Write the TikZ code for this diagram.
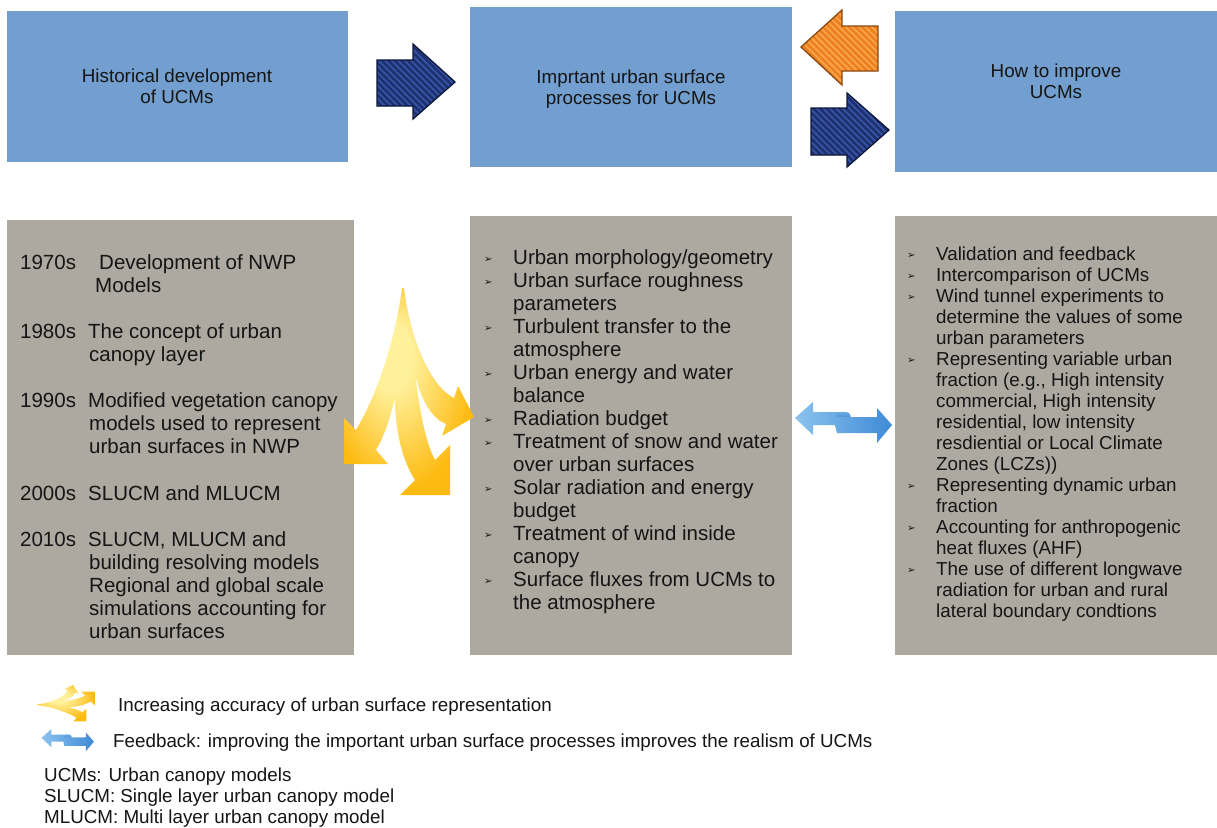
\documentclass[tikz,border=0pt]{standalone}
\usepackage{fontspec}
\setmainfont{Liberation Sans}
\newfontfamily\symfont{DejaVu Sans}
\usetikzlibrary{patterns.meta}

\definecolor{boxblue}{HTML}{729FCF}
\definecolor{boxgrey}{HTML}{ADA9A1}
\definecolor{navyfill}{HTML}{1D2F6E}
\definecolor{navystripe}{HTML}{3552A3}
\definecolor{navyedge}{HTML}{0D1736}
\definecolor{orangefill}{HTML}{EE7F1E}
\definecolor{orangestripe}{HTML}{F8A54A}
\definecolor{orangeedge}{HTML}{8B4A12}
\definecolor{txt}{HTML}{151515}
\definecolor{fanlight}{HTML}{FFF09A}
\definecolor{fangold}{HTML}{FDBB12}
\definecolor{swaplight}{HTML}{8CC3EF}
\definecolor{swapdark}{HTML}{3E8AD6}

% radial gradient of the three-way arrow, lightest near the stem
\pgfdeclareradialshading{fanshade}{\pgfpoint{-8bp}{10bp}}{%
  color(0bp)=(fanlight); color(8bp)=(fanlight);
  color(28bp)=(fangold); color(50bp)=(fangold)}

\tikzset{
  panel/.style={inner sep=0pt, outer sep=0pt, draw=none},
  topbox/.style={panel, fill=boxblue},
  greybox/.style={panel, fill=boxgrey},
  toptext/.style={anchor=base, inner sep=0pt, text=txt,
    font=\fontsize{18.8}{21}\selectfont},
  bigtext/.style={anchor=base west, inner sep=0pt, text=txt,
    font=\fontsize{20.5}{23}\selectfont},
  smalltext/.style={anchor=base west, inner sep=0pt, text=txt,
    font=\fontsize{18.8}{21}\selectfont},
  bul/.style={anchor=base west, inner sep=0pt, text=txt,
    font=\symfont\fontsize{10}{10}\selectfont},
  navyarrow/.style={draw=navyedge, line width=1.3pt, line join=miter,
    preaction={fill=navyfill},
    pattern={Lines[angle=-45,distance=4.6pt,line width=1.9pt]},
    pattern color=navystripe},
  orangearrow/.style={draw=orangeedge, line width=1.3pt, line join=miter,
    preaction={fill=orangefill},
    pattern={Lines[angle=-45,distance=4.6pt,line width=1.9pt]},
    pattern color=orangestripe},
  fanarrow/.pic={
    \shade[shading=fanshade]
      % left branch
      (0,0) .. controls (-8,60) and (-28,112) .. (-46,142)
        -- (-58,130) -- (-58,176) -- (-14,176) -- (-26,162)
        .. controls (-10,135) and (4,80) .. (2,0)
      % middle branch
      (0,0) .. controls (-10,80) and (-14,150) .. (13,192)
        -- (-2,207) -- (48,207) -- (48,157) -- (33,172)
        .. controls (16,140) and (12,70) .. (2,0)
      % right branch
      (0,0) .. controls (6,70) and (16,125) .. (44,136)
        -- (40,148) -- (72,129) -- (56,98) -- (52,110)
        .. controls (28,98) and (8,50) .. (2,0);
  },
  swaparrow/.pic={
    % arrow pointing left, its shaft rolled over at the right end
    \shade[left color=swaplight, right color=swaplight!40!swapdark]
      (-49,-4) -- (-31,-20) -- (-31,-10) -- (2,-10)
      .. controls (7,-10) and (8,-4) .. (6,3)
      -- (-31,3) -- (-31,13) -- cycle;
    \shade[top color=swaplight!70!swapdark, bottom color=swapdark]
      (-7,-7) .. controls (-6,-11) and (4,-12) .. (6,-6)
      -- (6,-2) -- (-7,-2) -- cycle;
    % arrow pointing right, in front
    \shade[left color=swaplight!60!swapdark, right color=swapdark]
      (-7,-5) -- (33,-5) -- (33,-14) -- (48,3) -- (33,21) -- (33,11)
      -- (-7,11) .. controls (-9,6) and (-9,0) .. cycle;
  }
}

\begin{document}
\begin{tikzpicture}[x=1pt,y=-1pt]
\useasboundingbox (0,0) rectangle (1217,827);
\fill[white] (0,0) rectangle (1217,827);

% ---- heading boxes
\node[topbox, minimum width=341pt, minimum height=151pt] (hist) at (177.5,86.5) {};
\node[topbox, minimum width=322pt, minimum height=160pt] (proc) at (631,87) {};
\node[topbox, minimum width=322pt, minimum height=161pt] (impr) at (1056,91.5) {};

\node[toptext] (hist1) at (177,82) {Historical development};
\node[toptext] (hist2) at (177,103) {of UCMs};
\node[toptext] (proc1) at (631,83) {Imprtant urban surface};
\node[toptext] (proc2) at (631,104) {processes for UCMs};
\node[toptext] (impr1) at (1056,77) {How to improve};
\node[toptext] (impr2) at (1056,98) {UCMs};

% ---- block arrows between the headings
\draw[navyarrow] (377,60) -- (413,60) -- (413,44) -- (455,82) -- (413,119)
  -- (413,106) -- (377,106) -- cycle;
\draw[orangearrow] (878,26) -- (842,26) -- (842,10) -- (801,47) -- (842,85)
  -- (842,71) -- (878,71) -- cycle;
\draw[navyarrow] (811,108) -- (847,108) -- (847,93) -- (889,130) -- (847,167)
  -- (847,155) -- (811,155) -- cycle;

% ---- content boxes
\node[greybox, minimum width=347pt, minimum height=435pt] (histbox) at (180.5,437.5) {};
\node[greybox, minimum width=322pt, minimum height=439pt] (procbox) at (631,435.5) {};
\node[greybox, minimum width=322pt, minimum height=439pt] (imprbox) at (1056,435.5) {};

% history of urban canopy models
\node[bigtext] (y70) at (20,269) {1970s};
\node[bigtext] (h1) at (99,269) {Development of NWP};
\node[bigtext] (h2) at (95,292) {Models};
\node[bigtext] (y80) at (20,338) {1980s};
\node[bigtext] (h3) at (88,338) {The concept of urban};
\node[bigtext] (h4) at (89,361) {canopy layer};
\node[bigtext] (y90) at (20,407) {1990s};
\node[bigtext] (h5) at (88,407) {Modified vegetation canopy};
\node[bigtext] (h6) at (89,430) {models used to represent};
\node[bigtext] (h7) at (89,453) {urban surfaces in NWP};
\node[bigtext] (y00) at (20,500) {2000s};
\node[bigtext] (h8) at (88,500) {SLUCM and MLUCM};
\node[bigtext] (y10) at (20,546) {2010s};
\node[bigtext] (h9) at (88,546) {SLUCM, MLUCM and};
\node[bigtext] (h10) at (89,569) {building resolving models};
\node[bigtext] (h11) at (89,592) {Regional and global scale};
\node[bigtext] (h12) at (89,615) {simulations accounting for};
\node[bigtext] (h13) at (89,638) {urban surfaces};

% important processes
\node[bigtext] (p1) at (513,264) {Urban morphology/geometry};
\node[bigtext] (p2) at (513,287) {Urban surface roughness};
\node[bigtext] (p3) at (513,310) {parameters};
\node[bigtext] (p4) at (513,333) {Turbulent transfer to the};
\node[bigtext] (p5) at (513,356) {atmosphere};
\node[bigtext] (p6) at (513,379) {Urban energy and water};
\node[bigtext] (p7) at (513,402) {balance};
\node[bigtext] (p8) at (513,425) {Radiation budget};
\node[bigtext] (p9) at (513,448) {Treatment of snow and water};
\node[bigtext] (p10) at (513,471) {over urban surfaces};
\node[bigtext] (p11) at (513,494) {Solar radiation and energy};
\node[bigtext] (p12) at (513,517) {budget};
\node[bigtext] (p13) at (513,540) {Treatment of wind inside};
\node[bigtext] (p14) at (513,563) {canopy};
\node[bigtext] (p15) at (513,586) {Surface fluxes from UCMs to};
\node[bigtext] (p16) at (513,609) {the atmosphere};
\foreach \yy [count=\i] in {264,287,333,379,425,448,494,540,586}
  \node[bul] (pb\i) at (484,\yy-2) {➢};

% ways of improving
\node[smalltext] (r1) at (936,260) {Validation and feedback};
\node[smalltext] (r2) at (936,281) {Intercomparison of UCMs};
\node[smalltext] (r3) at (936,302) {Wind tunnel experiments to};
\node[smalltext] (r4) at (936,323) {determine the values of some};
\node[smalltext] (r5) at (936,344) {urban parameters};
\node[smalltext] (r6) at (936,365) {Representing variable urban};
\node[smalltext] (r7) at (936,386) {fraction (e.g., High intensity};
\node[smalltext] (r8) at (936,407) {commercial, High intensity};
\node[smalltext] (r9) at (936,428) {residential, low intensity};
\node[smalltext] (r10) at (936,449) {resdiential or Local Climate};
\node[smalltext] (r11) at (936,470) {Zones (LCZs))};
\node[smalltext] (r12) at (936,491) {Representing dynamic urban};
\node[smalltext] (r13) at (936,512) {fraction};
\node[smalltext] (r14) at (936,533) {Accounting for anthropogenic};
\node[smalltext] (r15) at (936,554) {heat fluxes (AHF)};
\node[smalltext] (r16) at (936,575) {The use of different longwave};
\node[smalltext] (r17) at (936,596) {radiation for urban and rural};
\node[smalltext] (r18) at (936,617) {lateral boundary condtions};
\foreach \yy [count=\i] in {260,281,302,365,491,533,575}
  \node[bul] (rb\i) at (907,\yy-2) {➢};

% ---- gradient arrows
\pic at (402,288) {fanarrow};
\pic at (844,422) {swaparrow};

% ---- legend
\pic[rotate=90, scale=0.28] at (37,705) {fanarrow};
\pic[scale=0.54] at (68,740) {swaparrow};
\node[smalltext] (leg1) at (118,711) {Increasing accuracy of urban surface representation};
\node[smalltext] (leg2) at (113,747) {Feedback: improving the important urban surface processes improves the realism of UCMs};
\node[smalltext] (ab1) at (44,781) {UCMs: Urban canopy models};
\node[smalltext] (ab2) at (44,802) {SLUCM: Single layer urban canopy model};
\node[smalltext] (ab3) at (44,823) {MLUCM: Multi layer urban canopy model};
\end{tikzpicture}
\end{document}
